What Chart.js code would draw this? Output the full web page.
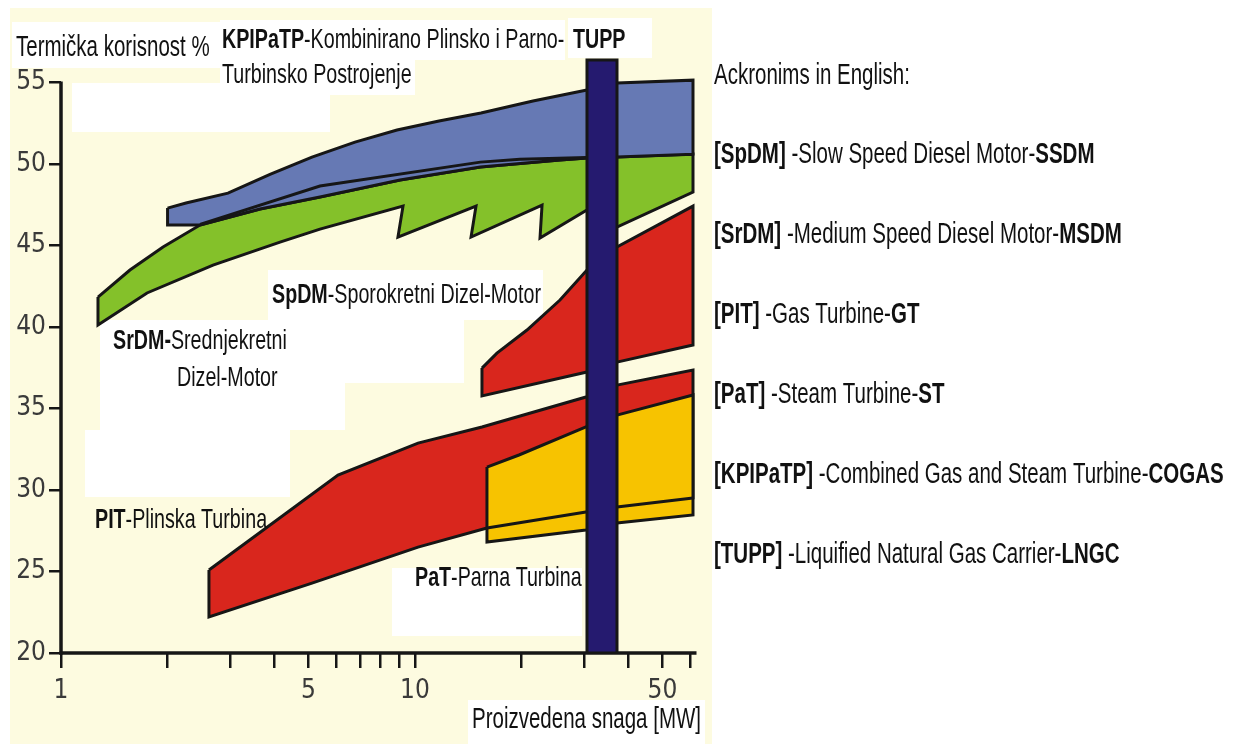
<!DOCTYPE html>
<html><head><meta charset="utf-8">
<script src="https://cdn.jsdelivr.net/npm/chart.js@4.4.1/dist/chart.umd.min.js"></script>
<style>html,body{margin:0;padding:0;background:#fff;overflow:hidden}canvas{display:block}</style>
</head><body>
<canvas id="c" width="1244" height="744" style="width:1244px;height:744px"></canvas>
<script>
// ---------- data ----------
const xTicks = [1,2,3,4,5,6,7,8,9,10,20,30,40,50,60];
const xTickLabels = {1:'1',5:'5',10:'10',50:'50'};
const yTicks = [20,25,30,35,40,45,50,55];

// KPIPaTP (combined gas & steam turbine) band, closed outline
const cogasX = [2.0, 2.255, 2.963, 3.894, 5.117, 6.768, 8.897, 11.69, 15.36, 21.54, 30.6, 37.2, 61, 61, 37.2, 30.6, 25.68, 15.3, 9.07, 5.39, 3.649, 2.47, 2.0, 2.0];
const cogasY = [47.3, 47.61, 48.22, 49.37, 50.43, 51.35, 52.09, 52.64, 53.13, 53.87, 54.54, 54.97, 55.15, 50.61, 50.43, 50.37, 50.25, 49.82, 49.02, 47.98, 47.24, 46.26, 46.26, 47.3];
// inner edge line inside the KPIPaTP band
const cogasInnerX = [2.47, 5.39, 15.3, 19.8, 30.6];
const cogasInnerY = [46.3, 48.65, 50.12, 50.3, 50.4];

// diesel band (green, saw-tooth lower edge)
const dieselX = [1.272, 1.566, 1.942, 2.47, 3.649, 5.39, 9.07, 15.3, 25.68, 30.6, 37.2, 61, 61, 37.2, 30.6, 22.55, 22.85, 14.4, 14.87, 8.95, 9.25, 5.39, 4.156, 2.688, 1.75, 1.272, 1.272];
const dieselY = [41.84, 43.5, 44.91, 46.26, 47.24, 47.98, 49.02, 49.82, 50.25, 50.37, 50.43, 50.61, 48.28, 46.13, 47.18, 45.46, 47.48, 45.52, 47.42, 45.52, 47.42, 46.01, 45.21, 43.8, 42.09, 40.12, 41.84];

// upper red band
const redUpX = [15.46, 17.04, 20.72, 25.68, 30.6, 37.2, 61, 61, 37.2, 30.6, 15.46, 15.46];
const redUpY = [37.48, 38.4, 39.82, 41.66, 43.5, 44.91, 47.42, 38.9, 37.85, 37.24, 35.77, 37.48];

// PIT gas turbine band (red)
const pitX = [2.618, 6.06, 10.2, 15.46, 30.41, 37.2, 61, 61, 37.2, 30.41, 15.97, 10.2, 5.118, 2.618, 2.618];
const pitY = [25.09, 30.92, 32.88, 33.87, 35.71, 36.44, 37.36, 29.51, 28.96, 28.65, 27.67, 26.5, 24.29, 22.21, 25.09];
const pitLowX = [15.97, 30.41, 37.2, 61];
const pitLowY = [27.67, 28.65, 28.96, 29.51];

// PaT steam turbine band (yellow)
const patX = [15.97, 19.67, 30.41, 37.2, 61, 61, 37.2, 30.41, 15.97, 15.97];
const patY = [31.41, 32.15, 33.87, 34.6, 35.83, 28.47, 27.98, 27.55, 26.81, 31.41];

// TUPP (LNGC) column
const tuppX = [30.61, 30.61, 37.21, 37.21, 30.61];
const tuppY = [20, 56.38, 56.38, 20, 20];

// ---------- helpers ----------
const zip = (xs, ys) => xs.map((x, i) => ({x, y: ys[i]}));
function hasFont(name){
  const c = document.createElement('canvas').getContext('2d');
  c.font = '40px monospace'; const a = c.measureText('abcdefghijklmW').width;
  c.font = '40px "' + name + '", monospace'; const b = c.measureText('abcdefghijklmW').width;
  return a !== b;
}
const NARROW = hasFont('Liberation Sans Narrow');
const FAM = NARROW ? '"Liberation Sans Narrow"' : '"Liberation Sans", Arial, sans-serif';
const SX = NARROW ? 1 : 0.82;
const SY = 1.16;  // the reference lettering is taller than plain narrow type
const TICKFAM = NARROW ? '"Liberation Sans Narrow"' : '"DejaVu Sans Condensed", "Liberation Sans", sans-serif';
const OUT = '#161616';

function band(xs, ys, color, order){
  return {data: zip(xs, ys), backgroundColor: color, borderColor: OUT, borderWidth: 3,
    fill: 'shape', pointRadius: 0, tension: 0, order, borderJoinStyle: 'miter'};
}
function edge(xs, ys, order){
  return {data: zip(xs, ys), borderColor: OUT, borderWidth: 3, fill: false,
    pointRadius: 0, tension: 0, order};
}

const texts = [
  {x:16, y:48, s:25, r:[['Termička korisnost %',0]]},
  {x:222, y:40, s:24, r:[['KPIPaTP',1],['-Kombinirano Plinsko i Parno-',0]]},
  {x:573, y:40, s:24, r:[['TUPP',1]]},
  {x:222, y:75, s:24, r:[['Turbinsko Postrojenje',0]]},
  {x:272, y:295, s:24, r:[['SpDM',1],['-Sporokretni Dizel-Motor',0]]},
  {x:113, y:341, s:24, r:[['SrDM-',1],['Srednjekretni',0]]},
  {x:177, y:378, s:24, r:[['Dizel-Motor',0]]},
  {x:95, y:520, s:24, r:[['PIT',1],['-Plinska Turbina',0]]},
  {x:415, y:578, s:24, r:[['PaT',1],['-Parna Turbina',0]]},
  {x:472, y:720, s:25, r:[['Proizvedena snaga [MW]',0]]},
  {x:714, y:76, s:25, r:[['Ackronims in English:',0]]},
  {x:714, y:155, s:25, r:[['[SpDM]',1],[' -Slow Speed Diesel Motor-',0],['SSDM',1]]},
  {x:714, y:235, s:25, r:[['[SrDM]',1],[' -Medium Speed Diesel Motor-',0],['MSDM',1]]},
  {x:714, y:315, s:25, r:[['[PIT]',1],[' -Gas Turbine-',0],['GT',1]]},
  {x:714, y:395, s:25, r:[['[PaT]',1],[' -Steam Turbine-',0],['ST',1]]},
  {x:714, y:475, s:25, r:[['[KPIPaTP]',1],[' -Combined Gas and Steam Turbine-',0],['COGAS',1]]},
  {x:714, y:555, s:25, r:[['[TUPP]',1],[' -Liquified Natural Gas Carrier-',0],['LNGC',1]]},
];
const whites = [
  [12,22,208,46],[220,20,345,40],[568,18,84,40],[220,60,195,35],
  [72,83,258,49],[268,270,275,50],[312,318,152,65],[100,320,245,110],
  [85,430,205,67],[392,568,190,68],[468,700,237,44]
];

const bgPlugin = {
  id: 'bg',
  beforeDraw(chart){
    const ctx = chart.ctx; ctx.save();
    ctx.fillStyle = '#fff'; ctx.fillRect(0,0,chart.width,chart.height);
    ctx.fillStyle = '#fdfbe0'; ctx.fillRect(10,8,702,736);
    ctx.fillStyle = '#fff';
    for (const w of whites) ctx.fillRect(w[0],w[1],w[2],w[3]);
    ctx.restore();
  },
  beforeDatasetsDraw(chart){
    const ctx = chart.ctx, xs = chart.scales.x, ys = chart.scales.y;
    ctx.save(); ctx.strokeStyle = OUT; ctx.lineWidth = 3.5; ctx.lineCap = 'butt';
    const x0 = xs.getPixelForValue(1), y0 = ys.getPixelForValue(20), yT = ys.getPixelForValue(55);
    ctx.beginPath(); ctx.moveTo(x0, y0 + 1.5); ctx.lineTo(x0, yT - 1); ctx.stroke();
    ctx.beginPath(); ctx.moveTo(x0 - 1.5, y0); ctx.lineTo(xs.right + 1, y0); ctx.stroke();
    ctx.restore();
  },
  afterDraw(chart){
    const ctx = chart.ctx; ctx.save();
    ctx.fillStyle = '#111'; ctx.textBaseline = 'middle'; ctx.textAlign = 'left';
    for (const t of texts){
      ctx.save(); ctx.translate(t.x, t.y); ctx.scale(SX, SY);
      let cx = 0;
      for (const [str, b] of t.r){
        ctx.font = (b ? 'bold ' : '') + t.s + 'px ' + FAM;
        ctx.fillText(str, cx, 0); cx += ctx.measureText(str).width;
      }
      ctx.restore();
    }
    ctx.restore();
  }
};

new Chart(document.getElementById('c'), {
  type: 'line',
  data: { datasets: [
    band(pitX, pitY, '#d9261d', 7),
    band(patX, patY, '#f7c300', 6),
    edge(pitLowX, pitLowY, 5),
    band(redUpX, redUpY, '#d9261d', 4),
    band(dieselX, dieselY, '#84c12a', 3),
    band(cogasX, cogasY, '#6679b4', 2),
    edge(cogasInnerX, cogasInnerY, 1),
    band(tuppX, tuppY, '#251a6f', 0),
  ]},
  options: {
    responsive: false, animation: false, devicePixelRatio: 1,
    layout: {padding: {left: 0, top: 50, right: 548.5, bottom: 0}},
    plugins: {legend: {display: false}, tooltip: {enabled: false}},
    scales: {
      x: {type: 'logarithmic', min: 1, max: 62, position: 'bottom',
        afterBuildTicks: s => { s.ticks = xTicks.map(v => ({value: v})); },
        afterFit: s => { s.height = 91; },
        ticks: {autoSkip: false, maxRotation: 0, minRotation: 0, padding: 8, color: '#3a3a3a',
          font: {family: TICKFAM, size: 26}, callback: v => xTickLabels[v] || ''},
        grid: {display: true, drawOnChartArea: false, drawTicks: true, tickLength: 15, color: OUT, lineWidth: 2.5},
        border: {display: false}},
      y: {type: 'linear', min: 20, max: 57,
        afterBuildTicks: s => { s.ticks = yTicks.map(v => ({value: v})); },
        afterFit: s => { s.width = 61; },
        ticks: {padding: 3, color: '#3a3a3a', font: {family: TICKFAM, size: 26}},
        grid: {display: true, drawOnChartArea: false, drawTicks: true, tickLength: 12, color: OUT, lineWidth: 2.5},
        border: {display: false}}
    }
  },
  plugins: [bgPlugin]
});
</script>
</body></html>
